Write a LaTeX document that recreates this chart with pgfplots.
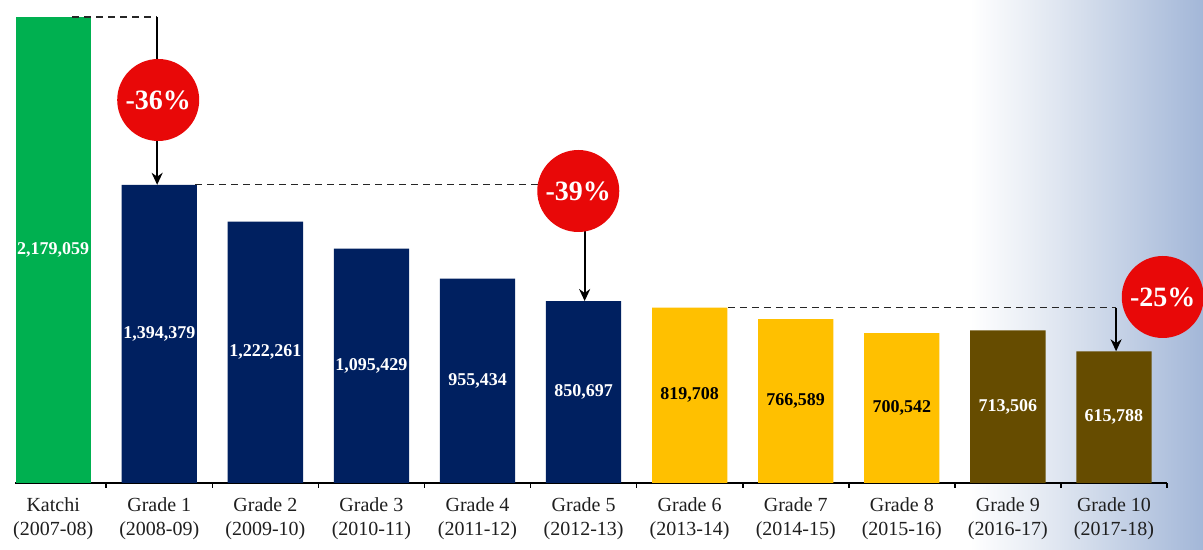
\documentclass[border=0pt]{standalone}
\usepackage{pgfplots}
\pgfplotsset{compat=1.18}
\usepackage{pgfplotstable}
\usepackage{fontspec}
\setmainfont{Liberation Serif}
\usetikzlibrary{arrows.meta}

\definecolor{kgreen}{RGB}{0,176,80}
\definecolor{knavy}{RGB}{0,32,96}
\definecolor{kyellow}{RGB}{255,192,0}
\definecolor{kbrown}{RGB}{102,76,0}
\definecolor{kred}{RGB}{232,8,8}
\definecolor{bgmid}{RGB}{222,229,240}
\definecolor{bgend}{RGB}{163,183,216}

\pgfplotstableread{
x y lab
0 2179059 2,179,059
}\katchi
\pgfplotstableread{
x y lab
1 1394379 1,394,379
2 1222261 1,222,261
3 1095429 1,095,429
4 955434 955,434
5 850697 850,697
}\primary
\pgfplotstableread{
x y lab
6 819708 819,708
7 766589 766,589
8 700542 700,542
}\middle
\pgfplotstableread{
x y lab
9 713506 713,506
10 615788 615,788
}\secondary

\begin{document}
\begin{tikzpicture}[x=1pt,y=1pt]
\useasboundingbox (0,0) rectangle (601.5,275);
\fill[white] (0,0) rectangle (601.5,275);
\shade[left color=white, right color=bgmid] (485,0) rectangle (530.5,275);
\shade[left color=bgmid, right color=bgend] (530,0) rectangle (601.5,275);
\begin{axis}[
  at={(7.5pt,33.5pt)}, anchor=south west,
  scale only axis, width=576pt, height=241.5pt,
  xmin=-0.36, xmax=10.5, ymin=0, ymax=2258500,
  axis x line*=bottom, axis y line=none, ytick=\empty,
  x axis line style={-, line width=0.8pt, black},
  xtick={0,...,10},
  xticklabels={{Katchi\\(2007-08)},{Grade 1\\(2008-09)},{Grade 2\\(2009-10)},{Grade 3\\(2010-11)},{Grade 4\\(2011-12)},{Grade 5\\(2012-13)},{Grade 6\\(2013-14)},{Grade 7\\(2014-15)},{Grade 8\\(2015-16)},{Grade 9\\(2016-17)},{Grade 10\\(2017-18)}},
  major tick length=0pt,
  extra x ticks={0.5,1.5,...,10.5},
  extra x tick labels={},
  extra x tick style={major tick length=2.5pt, tick align=outside, tick style={black, line width=0.8pt}},
  xticklabel style={align=center, font=\fontsize{10}{12}\selectfont, text=black!88, yshift=-4pt},
  clip=false,
]
\addplot[ybar, bar width=0.71, bar shift=0pt, fill=kgreen, draw=none] table[x=x,y=y] {\katchi};
\addplot[ybar, bar width=0.71, bar shift=0pt, fill=knavy, draw=none] table[x=x,y=y] {\primary};
\addplot[ybar, bar width=0.71, bar shift=0pt, fill=kyellow, draw=none] table[x=x,y=y] {\middle};
\addplot[ybar, bar width=0.71, bar shift=0pt, fill=kbrown, draw=none] table[x=x,y=y] {\secondary};

\addplot[only marks, mark=none, nodes near coords, point meta=explicit symbolic,
  nodes near coords style={anchor=center, text=white, font=\bfseries\fontsize{9}{10}\selectfont}]
  table[x=x, y expr=\thisrow{y}/2, meta=lab] {\katchi};
\addplot[only marks, mark=none, nodes near coords, point meta=explicit symbolic,
  nodes near coords style={anchor=center, text=white, font=\bfseries\fontsize{9}{10}\selectfont}]
  table[x=x, y expr=\thisrow{y}/2, meta=lab] {\primary};
\addplot[only marks, mark=none, nodes near coords, point meta=explicit symbolic,
  nodes near coords style={anchor=center, text=black, font=\bfseries\fontsize{9}{10}\selectfont}]
  table[x=x, y expr=\thisrow{y}/2, meta=lab] {\middle};
\addplot[only marks, mark=none, nodes near coords, point meta=explicit symbolic,
  nodes near coords style={anchor=center, text=white, font=\bfseries\fontsize{9}{10}\selectfont}]
  table[x=x, y expr=\thisrow{y}/2, meta=lab] {\secondary};

% annotations
\draw[black!85, line width=0.6pt, dash pattern=on 3.5pt off 2.5pt] (axis cs:0.18,2179059) -- (axis cs:0.98,2179059);
\draw[black, line width=1pt, -{Stealth[length=6pt,width=5.5pt]}] (axis cs:0.98,2179059) -- (axis cs:0.98,1394379);
\node[circle, fill=kred, minimum size=41pt, inner sep=0pt, text=white, font=\bfseries\fontsize{14}{14}\selectfont] at (axis cs:0.99,1790930) {-36\%};

\draw[black!85, line width=0.6pt, dash pattern=on 3.5pt off 2.5pt] (axis cs:1.34,1394379) -- (axis cs:5.01,1394379);
\draw[black, line width=1pt, -{Stealth[length=6pt,width=5.5pt]}] (axis cs:5.01,1394379) -- (axis cs:5.01,850697);
\node[circle, fill=kred, minimum size=41pt, inner sep=0pt, text=white, font=\bfseries\fontsize{14}{14}\selectfont] at (axis cs:4.95,1365400) {-39\%};

\draw[black!85, line width=0.6pt, dash pattern=on 3.5pt off 2.5pt] (axis cs:6.36,819708) -- (axis cs:10.02,819708);
\draw[black, line width=1pt, -{Stealth[length=6pt,width=5.5pt]}] (axis cs:10.02,819708) -- (axis cs:10.02,615788);
\node[circle, fill=kred, minimum size=41pt, inner sep=0pt, text=white, font=\bfseries\fontsize{14}{14}\selectfont] at (axis cs:10.46,869750) {-25\%};
\end{axis}
\end{tikzpicture}
\end{document}
